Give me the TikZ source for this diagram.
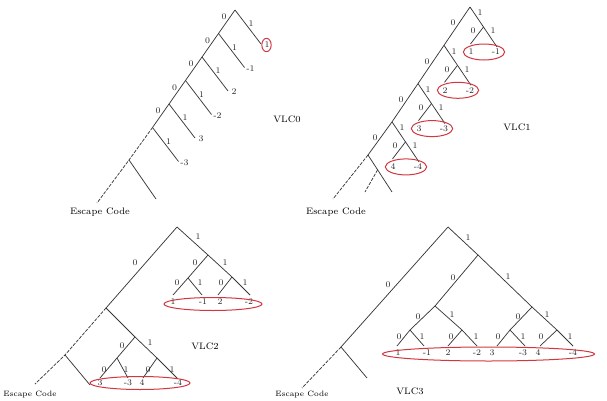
\documentclass[tikz,border=0pt]{standalone}
\usetikzlibrary{shapes.geometric,calc}
\definecolor{ringred}{RGB}{210,55,65}
\definecolor{linegray}{RGB}{55,55,55}
\tikzset{
 edge/.style={draw=linegray, line width=0.55pt},
 esc/.style={edge, dash pattern=on 2.5pt off 1pt},
 bit/.style={font=\fontsize{6.5}{7}\selectfont, inner sep=0pt, text=black!85},
 val/.style={font=\fontsize{6.5}{7}\selectfont, inner sep=0pt, text=black!85},
 ring/.style={draw=ringred, line width=0.75pt, ellipse, inner sep=0pt},
 title/.style={font=\fontsize{7}{8}\selectfont, inner sep=0pt},
 esclabel/.style={font=\fontsize{7}{8}\selectfont, inner sep=0pt},
 esclabelsmall/.style={font=\fontsize{5.8}{7}\selectfont, inner sep=0pt},
}
\begin{document}
\begin{tikzpicture}[x=0.75pt,y=-0.75pt]
\useasboundingbox[fill=white] (0,0) rectangle (607,400);

%% ---------------- VLC0 ----------------
\foreach \k in {0,...,5}{
  \coordinate (a\k) at ({235-16.5*\k},{10+23.5*\k});
  \coordinate (al\k) at ({261-16.5*\k},{44+23.5*\k});
}
\coordinate (ae) at (129,160);
\coordinate (ax) at (97,203);
\coordinate (ar) at (156,199);
\draw[edge] (a0) -- (a5);
\foreach \k in {0,...,5} \draw[edge] (a\k) -- (al\k);
\draw[esc] (a5) -- (ae) -- (ax);
\draw[edge] (ae) -- (ar);
\foreach \k/\v in {0/1,1/-1,2/2,3/-2,4/3,5/-3}
  \node[val] (av\k) at ($(al\k)+(6,1)$) {\v};
\foreach \k in {0,...,4} \node[bit] (az\k) at ($(a\k)+(-11,7)$) {0};
\foreach \k in {0,...,5} \node[bit] (ao\k) at ($(a\k)+(16,14)$) {1};
\node[ring, minimum width=7pt, minimum height=10pt] (aring) at (266.5,45) {};
\node[title] (t0) at (287,119) {VLC0};
\node[esclabel] (e0) at (100,212) {Escape Code};

%% ---------------- VLC1 ----------------
\foreach \k in {0,...,3}{
  \coordinate (b\k) at ({470-26*\k},{7+38.3*\k});
  \coordinate (bc\k) at ($(b\k)+(13.5,20)$);
  \coordinate (bl\k) at ($(b\k)+(0.5,37)$);
  \coordinate (bm\k) at ($(b\k)+(27,40)$);
}
\coordinate (be) at (368,155);
\coordinate (bx) at (333,199);
\coordinate (bq) at (392,192);
\coordinate (bf) at ($(be)!0.4!(bq)$);
\coordinate (bg) at (365,192);
\draw[edge] (b0) -- (b3) -- (be);
\foreach \k in {0,...,3}{
  \draw[edge] (b\k) -- (bc\k) -- (bm\k);
  \draw[edge] (bc\k) -- (bl\k);
}
\draw[esc] (be) -- (bx);
\draw[edge] (be) -- (bq);
\draw[esc] (bf) -- (bg);
\foreach \k/\p/\n in {0/1/-1,1/2/-2,2/3/-3,3/4/-4}{
  \node[val] (bp\k) at ($(b\k)+(1,45)$) {\p};
  \node[val] (bn\k) at ($(b\k)+(26,45)$) {\n};
  \node[ring, minimum width=31pt, minimum height=12pt] (bring\k) at ($(b\k)+(14,45)$) {};
  \node[bit] (bz\k) at ($(b\k)+(-17,16)$) {0};
  \node[bit] (bo\k) at ($(b\k)+(10,6)$) {1};
  \node[bit] (bcz\k) at ($(b\k)+(3,24)$) {0};
  \node[bit] (bco\k) at ($(b\k)+(23,24)$) {1};
}
\node[title] (t1) at (517,127) {VLC1};
\node[esclabel] (e1) at (336,212) {Escape Code};

%% ---------------- VLC2 ----------------
\coordinate (cr) at (177,227);
\coordinate (cA) at (208,255);
\coordinate (cA0) at (188,278);
\coordinate (cA1) at (232,277);
\coordinate (cl1) at (173,295);
\coordinate (cl2) at (202,295);
\coordinate (cl3) at (218,295);
\coordinate (cl4) at (250,295);
\coordinate (cB) at (106,308);
\coordinate (cC) at (135,337);
\coordinate (cC0) at (117,358);
\coordinate (cC1) at (157,358);
\coordinate (cm1) at (100,378);
\coordinate (cm2) at (128,378);
\coordinate (cm3) at (143,378);
\coordinate (cm4) at (177,378);
\coordinate (cD) at (65,355);
\coordinate (cx) at (35,384);
\coordinate (cq) at (90,385);
\draw[edge] (cr) -- (cA) -- (cA1) -- (cl4);
\draw[edge] (cA) -- (cA0) -- (cl1);
\draw[edge] (cA0) -- (cl2);
\draw[edge] (cA1) -- (cl3);
\draw[edge] (cr) -- (cB) -- (cC) -- (cC1) -- (cm4);
\draw[edge] (cC) -- (cC0) -- (cm1);
\draw[edge] (cC0) -- (cm2);
\draw[edge] (cC1) -- (cm3);
\draw[esc] (cB) -- (cD) -- (cx);
\draw[edge] (cD) -- (cq);
\node[val] (cv1) at (173,302) {1};
\node[val] (cv2) at (203,302) {-1};
\node[val] (cv3) at (220,302) {2};
\node[val] (cv4) at (249,302) {-2};
\node[ring, minimum width=73.5pt, minimum height=9.75pt] (cring1) at (213,304) {};
\node[val] (cw1) at (100,383) {3};
\node[val] (cw2) at (128,383) {-3};
\node[val] (cw3) at (142,383) {4};
\node[val] (cw4) at (178,383) {-4};
\node[ring, minimum width=75pt, minimum height=9.75pt] (cring2) at (140,383) {};
\node[bit] (cb1) at (198,237) {1};
\node[bit] (cb2) at (135,263) {0};
\node[bit] (cb3) at (195,263) {0};
\node[bit] (cb4) at (225,263) {1};
\node[bit] (cb5) at (177,283) {0};
\node[bit] (cb6) at (200,283) {1};
\node[bit] (cb7) at (221,283) {0};
\node[bit] (cb8) at (245,283) {1};
\node[bit] (cb9) at (122,346) {0};
\node[bit] (cb10) at (150,343) {1};
\node[bit] (cb11) at (104,370) {0};
\node[bit] (cb12) at (126,370) {1};
\node[bit] (cb13) at (148,370) {0};
\node[bit] (cb14) at (172,370) {1};
\node[title] (t2) at (205,346) {VLC2};
\node[esclabelsmall] (e2) at (30,395) {Escape Code};

%% ---------------- VLC3 ----------------
\coordinate (dr) at (448,227);
\coordinate (dP) at (478,255);
\coordinate (dE) at (341,347);
\coordinate (dx) at (302,388);
\coordinate (dq) at (367,378);
\coordinate (dQ) at (435,306);
\coordinate (dR) at (532,307);
\coordinate (dQ0) at (410,330);
\coordinate (dQ1) at (462,330);
\coordinate (dR0) at (510,330);
\coordinate (dR1) at (557,330);
\coordinate (dl1) at (397,346);
\coordinate (dl2) at (424,346);
\coordinate (dl3) at (448,346);
\coordinate (dl4) at (477,346);
\coordinate (dl5) at (497,346);
\coordinate (dl6) at (525,346);
\coordinate (dl7) at (540,346);
\coordinate (dl8) at (573,346);
\draw[edge] (dr) -- (dE);
\draw[esc] (dE) -- (dx);
\draw[edge] (dE) -- (dq);
\draw[edge] (dr) -- (dP) -- (dR) -- (dR1) -- (dl8);
\draw[edge] (dP) -- (dQ) -- (dQ0) -- (dl1);
\draw[edge] (dQ0) -- (dl2);
\draw[edge] (dQ) -- (dQ1) -- (dl4);
\draw[edge] (dQ1) -- (dl3);
\draw[edge] (dR) -- (dR0) -- (dl5);
\draw[edge] (dR0) -- (dl6);
\draw[edge] (dR1) -- (dl7);
\foreach \i/\x/\v in {1/398/1,2/427/-1,3/448/2,4/477/-2,5/492/3,6/523/-3,7/538/4,8/573/-4}
  \node[val] (dv\i) at (\x,353) {\v};
\node[ring, minimum width=159pt, minimum height=10.5pt] (dring) at (488.5,354) {};
\node[bit] (db1) at (468,238) {1};
\node[bit] (db2) at (388,285) {0};
\node[bit] (db3) at (453,278) {0};
\node[bit] (db4) at (508,277) {1};
\node[bit] (db5) at (418,317) {0};
\node[bit] (db6) at (452,315) {1};
\node[bit] (db7) at (518,317) {0};
\node[bit] (db8) at (547,315) {1};
\foreach \i/\x/\v in {1/399/0,2/422/1,3/451/0,4/476/1,5/498/0,6/523/1,7/541/0,8/570/1}
  \node[bit] (dc\i) at (\x,337) {\v};
\node[title] (t3) at (410,391) {VLC3};
\node[esclabelsmall] (e3) at (302,395) {Escape Code};
\end{tikzpicture}
\end{document}
